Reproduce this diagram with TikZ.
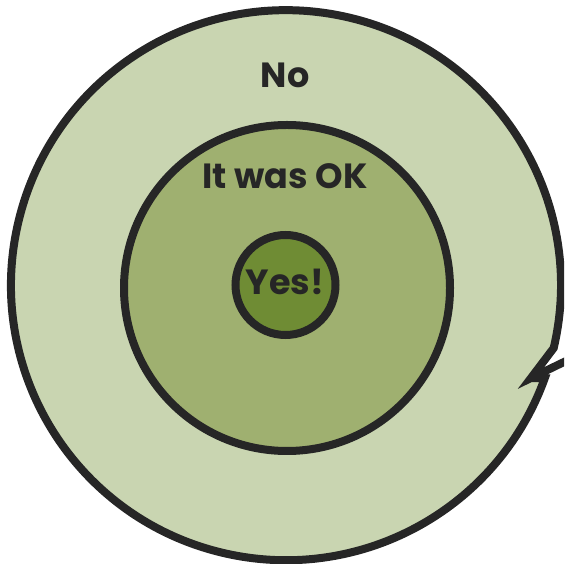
\documentclass[tikz,border=0pt]{standalone}
\usepackage{fontspec}
\setmainfont{Poppins}
\definecolor{outerc}{HTML}{C9D5B1}
\definecolor{midc}{HTML}{9FB070}
\definecolor{innerc}{HTML}{6F8C34}
\definecolor{inkc}{HTML}{262626}
\begin{document}
\begin{tikzpicture}[x=1pt,y=1pt,
  ring/.style={draw=inkc,line width=8pt},
  lbl/.style={text=inkc,font=\fontsize{35}{40}\selectfont\bfseries,inner sep=0pt}]
\useasboundingbox (0,0) rectangle (564,564);
\clip (0,0) rectangle (564,564);
% outer bubble
\fill[outerc] (286,279) circle (275);
\fill[white] (531,186) -- (553.7,216) -- (585,216) -- (585,212) -- cycle;
\draw[ring,line join=miter,miter limit=20] (585,212.2) -- (531,186) -- (553.7,216)
  arc[start angle=-13.2,end angle=340.23,radius=275] -- (531,186);
% middle and inner
\node[ring,fill=midc,circle,minimum size=326pt,inner sep=0pt] (mid) at (287,276) {};
\node[ring,fill=innerc,circle,minimum size=100pt,inner sep=0pt] (inn) at (285.5,279) {};
% labels
\node[lbl] (no) at (285,489) {No};
\node[lbl] (ok) at (285,388) {It was OK};
\node[lbl] (yes) at (285,282) {Yes!};
\end{tikzpicture}
\end{document}
